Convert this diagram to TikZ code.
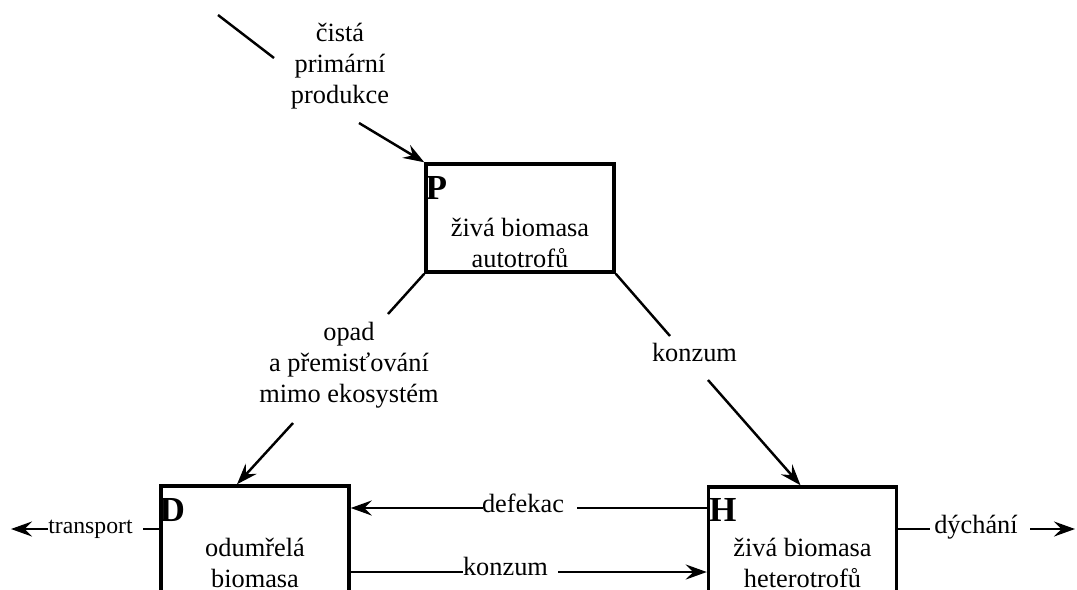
\documentclass[tikz,border=0pt]{standalone}
\usepackage{fontspec}
\setmainfont{Liberation Serif}
\usetikzlibrary{arrows.meta}

\begin{document}
\begin{tikzpicture}[x=0.02cm, y=-0.02cm,
            pool/.style={draw, line width=2pt, minimum width=3.76cm, inner sep=0pt},
            tag/.style={font=\fontsize{20}{20}\selectfont\bfseries, inner sep=0pt, anchor=north west},
            txt/.style={font=\fontsize{15}{17.6}\selectfont, align=center, inner sep=0pt},
            flow/.style={line width=1.4pt},
            arrow/.style={flow, -{Stealth[length=4.2mm, width=3mm, inset=1.5mm]}},
        ]
            \clip (0, 0) rectangle (1077, 589);
            % the three pools
            \node[pool, minimum height=2.16cm] (P) at (520, 218) {};
            \node[pool, minimum height=2.4cm] (D) at (255, 546) {};
            \node[pool, minimum height=2.4cm] (H) at (802.5, 547) {};
            \node[tag] (Ptag) at ([shift={(1, 14)}]P.north west) {P};
            \node[tag] (Dtag) at ([shift={(0, 14)}]D.north west) {D};
            \node[tag] (Htag) at ([shift={(2, 13)}]H.north west) {H};
            \node[txt] (Ptext) at (520, 242.5) {živá biomasa\\autotrofů};
            \node[txt] (Dtext) at (255, 563) {odumřelá\\biomasa};
            \node[txt] (Htext) at (802.5, 563) {živá biomasa\\heterotrofů};
            % flow labels
            \node[txt] (npp) at (340, 66.5) {čistá\\primární\\produkce};
            \node[txt] (litter) at (349, 365) {opad\\a přemisťování\\mimo ekosystém};
            \node[txt] (graze) at (694.5, 352.5) {konzum};
            \node[txt, anchor=base] (defec) at (523, 512) {defekac};
            \node[txt, anchor=base] (detri) at (505.5, 575) {konzum};
            \node[txt, anchor=base, font=\fontsize{13.5}{16}\selectfont] (export) at (90.5, 533) {transport};
            \node[txt, anchor=base] (resp) at (976, 533) {dýchání};
            % break points of the connectors
            \coordinate (npp in) at (218, 15);
            \coordinate (npp a) at (274, 58);
            \coordinate (npp b) at (359, 123);
            \coordinate (litter a) at (388, 314);
            \coordinate (litter b) at (293, 423);
            \coordinate (graze a) at (670, 336);
            \coordinate (graze b) at (708, 380);
            \coordinate (defec a) at (577, 508);
            \coordinate (defec b) at (483, 508);
            \coordinate (detri a) at (463, 572);
            \coordinate (detri b) at (558, 572);
            \coordinate (export a) at (143, 529);
            \coordinate (export b) at (48, 529);
            \coordinate (export end) at (11, 529);
            \coordinate (resp a) at (930, 529);
            \coordinate (resp b) at (1030, 529);
            \coordinate (resp end) at (1075, 529);
            % flows
            \draw[flow] (npp in) -- (npp a);
            \draw[arrow] (npp b) -- (P.north west);
            \draw[flow] (P.south west) -- (litter a);
            \draw[arrow] (litter b) -- ([shift={(-18, 0)}]D.north);
            \draw[flow] (P.south east) -- (graze a);
            \draw[arrow] (graze b) -- ([shift={(-2, 0)}]H.north);
            \draw[flow] (H.west |- defec a) -- (defec a);
            \draw[arrow] (defec b) -- (D.east |- defec b);
            \draw[flow] (D.east |- detri a) -- (detri a);
            \draw[arrow] (detri b) -- (H.west |- detri b);
            \draw[flow] (D.west |- export a) -- (export a);
            \draw[arrow] (export b) -- (export end);
            \draw[flow] (H.east |- resp a) -- (resp a);
            \draw[arrow] (resp b) -- (resp end);
        \end{tikzpicture}
\end{document}
